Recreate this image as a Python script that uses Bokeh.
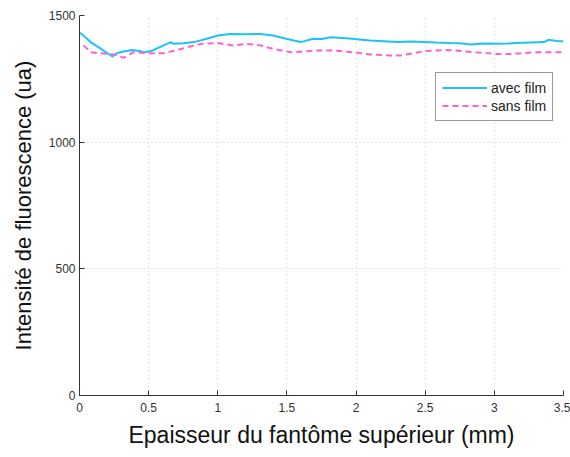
from bokeh.plotting import figure
from bokeh.models import Legend, LegendItem, Range1d, FixedTicker
from bokeh.embed import file_html
from bokeh.resources import INLINE

# avec film (cyan, solid)
x_avec = [0.0, 0.03, 0.08, 0.15, 0.20, 0.24, 0.27, 0.32, 0.38, 0.43, 0.47, 0.53, 0.60,
          0.66, 0.68, 0.75, 0.83, 0.92, 1.00, 1.09, 1.20, 1.31, 1.40, 1.48, 1.55, 1.60,
          1.69, 1.75, 1.82, 1.95, 2.10, 2.20, 2.30, 2.40, 2.49, 2.58, 2.68, 2.75, 2.83,
          2.92, 3.02, 3.10, 3.16, 3.26, 3.36, 3.39, 3.45, 3.50]
y_avec = [1433, 1420, 1395, 1370, 1352, 1338, 1351, 1358, 1364, 1360, 1355, 1362, 1380,
          1395, 1388, 1390, 1395, 1408, 1421, 1427, 1426, 1427, 1421, 1410, 1401, 1395,
          1408, 1407, 1414, 1409, 1401, 1398, 1395, 1397, 1395, 1393, 1391, 1390, 1386,
          1389, 1388, 1389, 1391, 1393, 1395, 1404, 1399, 1398]

# sans film (magenta, dashed)
x_sans = [0.03, 0.08, 0.15, 0.25, 0.32, 0.39, 0.51, 0.61, 0.71, 0.80, 0.88, 1.00, 1.11,
          1.21, 1.31, 1.40, 1.53, 1.65, 1.72, 1.84, 1.98, 2.10, 2.25, 2.32, 2.40, 2.49,
          2.64, 2.72, 2.85, 3.02, 3.14, 3.22, 3.31, 3.40, 3.50]
y_sans = [1382, 1355, 1351, 1346, 1333, 1355, 1351, 1351, 1364, 1378, 1388, 1391, 1382,
          1388, 1382, 1368, 1355, 1359, 1362, 1362, 1355, 1346, 1342, 1342, 1350, 1359,
          1364, 1362, 1355, 1348, 1348, 1352, 1355, 1355, 1355]

x_ticks = [0, 0.5, 1, 1.5, 2, 2.5, 3, 3.5]
y_ticks = [0, 500, 1000, 1500]

FONT = "Liberation Sans"

p = figure(width=570, height=454, output_backend="svg", toolbar_location=None,
           x_range=Range1d(0, 3.5), y_range=Range1d(0, 1500),
           min_border_left=79, min_border_top=15, min_border_right=7, min_border_bottom=59)
p.outline_line_color = None
p.background_fill_color = "white"

r1 = p.line(x_avec, y_avec, line_color="#1ec3f5", line_width=2)
r2 = p.line(x_sans, y_sans, line_color="#ff5fd2", line_width=2, line_dash="6 4")

for ax, ticks in ((p.xaxis[0], x_ticks), (p.yaxis[0], y_ticks)):
    ax.ticker = FixedTicker(ticks=ticks)
    ax.major_tick_in = 5
    ax.major_tick_out = 0
    ax.minor_tick_in = 0
    ax.minor_tick_out = 0
    ax.axis_line_color = "#333333"
    ax.major_tick_line_color = "#333333"
    ax.major_label_text_font = FONT
    ax.major_label_text_font_size = "12px"
    ax.major_label_text_color = "#333333"
    ax.axis_label_text_font = FONT
    ax.axis_label_text_font_style = "normal"
    ax.axis_label_text_color = "#111111"

p.xaxis.axis_label = "Epaisseur du fantôme supérieur (mm)"
p.yaxis.axis_label = "Intensité de fluorescence (ua)"
p.xaxis.axis_label_text_font_size = "23px"
p.yaxis.axis_label_text_font_size = "22px"
p.xaxis.major_label_standoff = 7
p.yaxis.major_label_standoff = 4
p.xaxis.axis_label_standoff = 7
p.yaxis.axis_label_standoff = 10

p.grid.grid_line_color = "#c8c8c8"
p.grid.grid_line_dash = "1 3"
p.grid.grid_line_width = 1

legend = Legend(items=[LegendItem(label="avec film", renderers=[r1]),
                       LegendItem(label="sans film", renderers=[r2])],
                location=(356, 274))
legend.label_text_font = FONT
legend.label_text_font_size = "14px"
legend.label_text_color = "#222222"
legend.border_line_color = "#333333"
legend.border_line_width = 1
legend.glyph_width = 45
legend.glyph_height = 17
legend.label_height = 17
legend.spacing = 1
legend.padding = 6
legend.margin = 0
legend.label_standoff = 4
p.add_layout(legend, "center")

open("out.html", "w").write(file_html(p, INLINE))
